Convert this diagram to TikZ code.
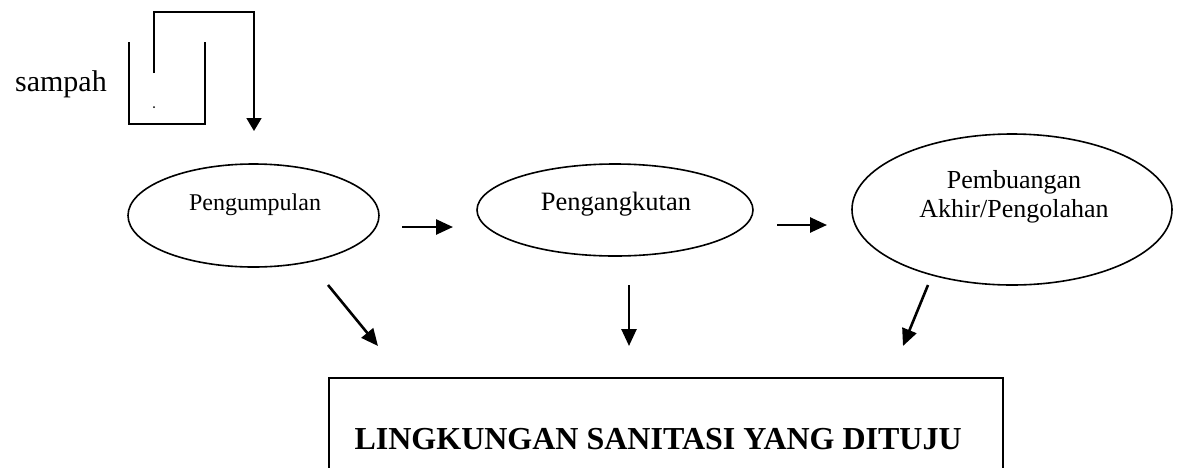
\documentclass[tikz,border=0pt]{standalone}
\usepackage{fontspec}
\setmainfont{Liberation Serif}
\usetikzlibrary{shapes.geometric,arrows.meta}
\tikzset{
  oval/.style={draw,ellipse,line width=1.6pt,inner sep=0pt},
  binline/.style={line width=1.8pt},
  flow/.style={line width=2.6pt,-{Triangle[length=17pt,width=15pt]}},
  lbl/.style={inner sep=0pt,anchor=base},
}
\begin{document}
\begin{tikzpicture}[x=1pt,y=-1pt]
\useasboundingbox (0,0) rectangle (1187,467);
\clip (0,0) rectangle (1187,467);
% bin
\draw[binline] (129,42) -- (129,124) -- (205,124) -- (205,42);
\fill (154,107) circle (1pt);
\coordinate (binin) at (154,73);
\coordinate (bintip) at (254,131);
\draw[binline,-{Triangle[length=13pt,width=15pt]}] (binin) -- (154,12) -- (254,12) -- (bintip);
\node[lbl,anchor=base east,font=\fontsize{30}{36}\selectfont] (sampah) at (107,91) {sampah};
% ellipses
\node[oval,minimum width=251pt,minimum height=103pt] (e1) at (253.5,215.5) {};
\node[lbl,font=\fontsize{24}{29}\selectfont] (t1) at (255,210) {Pengumpulan};
\node[oval,minimum width=276pt,minimum height=92pt] (e2) at (615,210) {};
\node[lbl,font=\fontsize{26.5}{32}\selectfont] (t2) at (616,210) {Pengangkutan};
\node[oval,minimum width=320pt,minimum height=151pt] (e3) at (1012,209.5) {};
\node[lbl,font=\fontsize{26}{29}\selectfont] (t3a) at (1014,188) {Pembuangan};
\node[lbl,font=\fontsize{26}{29}\selectfont] (t3b) at (1014,217) {Akhir/Pengolahan};
% horizontal arrows
\coordinate (h1s) at (402,227); \coordinate (h1e) at (453,227);
\coordinate (h2s) at (777,225); \coordinate (h2e) at (827,225);
\draw[flow] (h1s) -- (h1e);
\draw[flow] (h2s) -- (h2e);
% box
\node[draw,line width=1.8pt,minimum width=674pt,minimum height=120pt,anchor=north west,inner sep=0pt] (box) at (328,377) {};
\node[lbl,anchor=base east,font=\fontsize{32}{38}\selectfont\bfseries] (goal) at (962,449) {LINGKUNGAN SANITASI YANG DITUJU};
% down arrows
\coordinate (d1s) at (328,285); \coordinate (d1e) at (378,346);
\coordinate (d2s) at (629,285); \coordinate (d2e) at (629,346);
\coordinate (d3s) at (928,285); \coordinate (d3e) at (903,346);
\draw[flow] (d1s) -- (d1e);
\draw[flow] (d2s) -- (d2e);
\draw[flow] (d3s) -- (d3e);
\end{tikzpicture}
\end{document}
